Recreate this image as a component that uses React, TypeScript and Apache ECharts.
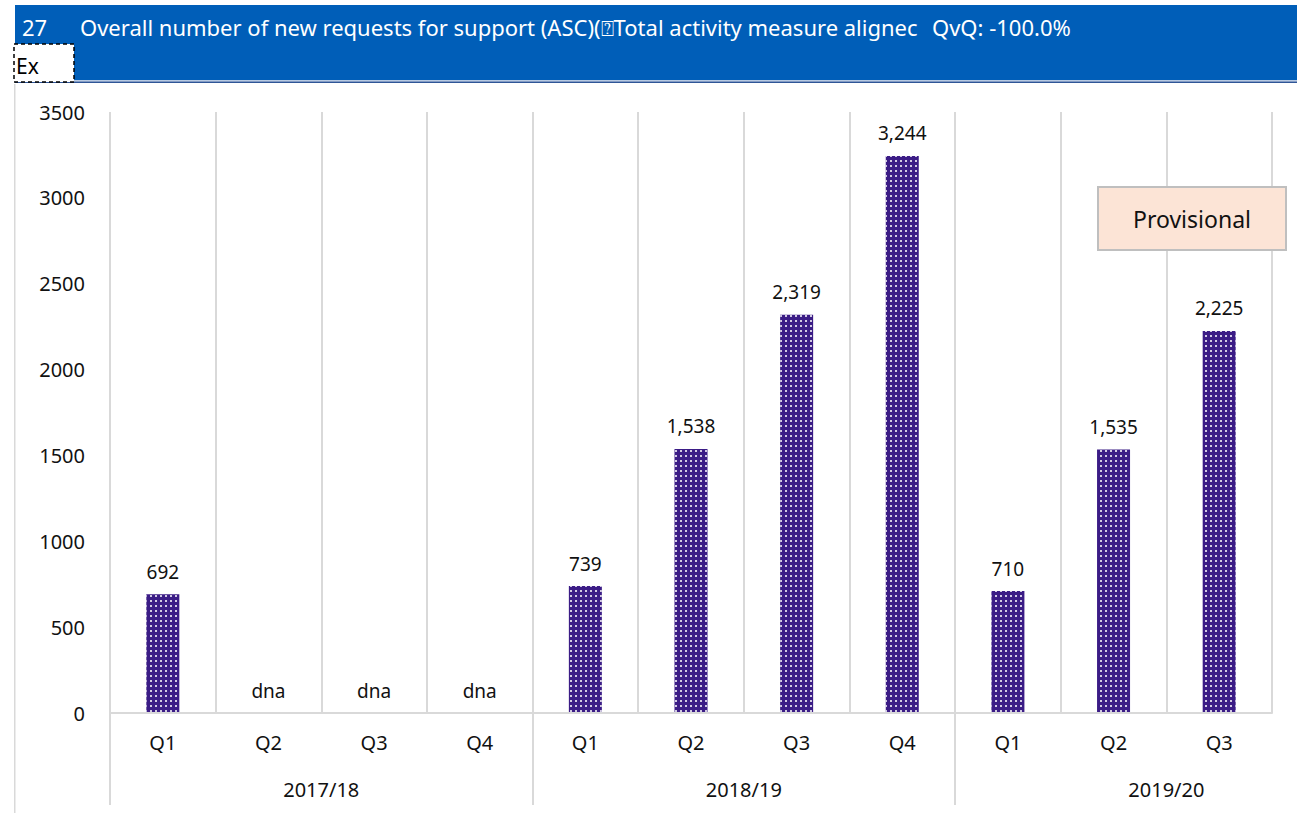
import React, { useEffect, useRef } from "react";
import * as echarts from "echarts";

const quarters = ["Q1", "Q2", "Q3", "Q4", "Q1", "Q2", "Q3", "Q4", "Q1", "Q2", "Q3"];
const values: (number | null)[] = [692, null, null, null, 739, 1538, 2319, 3244, 710, 1535, 2225];
const yearLabels: { pos: number; label: string }[] = [
  { pos: 2, label: "2017/18" },
  { pos: 6, label: "2018/19" },
  { pos: 10, label: "2019/20" },
];
const quartersPerYear = 4;
const yTicks = { min: 0, max: 3500, interval: 500 };

const FONT = "Noto Sans";
const GRID = "#D9D9D9";
const LEFT = 110;
const RIGHT_EDGE = 1272;

export default function App() {
  const ref = useRef<HTMLDivElement>(null);
  useEffect(() => {
    if (!ref.current) return;
    const chart = echarts.init(ref.current, undefined, { renderer: "svg" });
    const data = values.map((v) => (v === null ? 0 : v));
    const groupLineColors = Array.from({ length: quarters.length + 1 }, (_, i) =>
      i < quarters.length && i % quartersPerYear === 0 ? GRID : "rgba(0,0,0,0)"
    );
    chart.setOption({
      animation: false,
      textStyle: { fontFamily: FONT },
      grid: [
        { left: LEFT, right: 1297 - RIGHT_EDGE, top: 112, bottom: 100, containLabel: false },
        { left: LEFT, right: 1297 - RIGHT_EDGE, top: 713, height: 92, containLabel: false },
      ],
      xAxis: [
        {
          type: "category",
          gridIndex: 0,
          data: quarters,
          boundaryGap: true,
          axisLine: { show: true, lineStyle: { color: GRID, width: 2 } },
          axisTick: { show: false },
          axisLabel: { color: "#111", fontSize: 20, margin: 19, fontFamily: FONT },
          splitLine: { show: true, lineStyle: { color: GRID, width: 2 } },
          z: 3,
        },
        {
          type: "value",
          gridIndex: 0,
          min: 0,
          max: quarters.length,
          interval: 1,
          position: "bottom",
          axisLine: { show: false },
          axisTick: { show: false },
          splitLine: { show: false },
          axisLabel: {
            color: "#111",
            fontSize: 20,
            margin: 66,
            fontFamily: FONT,
            showMinLabel: false,
            showMaxLabel: false,
            formatter: (v: number) => {
              const f = yearLabels.find((y) => y.pos === v);
              return f ? f.label : "";
            },
          },
        },
        {
          type: "category",
          gridIndex: 1,
          data: quarters,
          boundaryGap: true,
          axisLine: { show: false },
          axisTick: { show: false },
          axisLabel: { show: false },
          splitLine: { show: true, interval: 0, lineStyle: { color: groupLineColors, width: 2 } },
        },
      ],
      yAxis: [
        {
          type: "value",
          gridIndex: 0,
          min: yTicks.min,
          max: yTicks.max,
          interval: yTicks.interval,
          axisLine: { show: false },
          axisTick: { show: false },
          splitLine: { show: false },
          axisLabel: { color: "#111", fontSize: 20, margin: 25, fontFamily: FONT, formatter: (v: number) => String(v) },
        },
        { type: "value", gridIndex: 1, show: false, splitLine: { show: false } },
      ],
      series: [
        {
          type: "bar",
          xAxisIndex: 0,
          yAxisIndex: 0,
          data,
          barWidth: 33,
          itemStyle: {
            color: "#3B1C86",
            decal: {
              symbol: "rect",
              symbolSize: 0.9,
              color: "rgba(255,255,255,0.85)",
              dashArrayX: [2, 3],
              dashArrayY: [2, 3],
              rotation: 0,
            },
          },
          label: {
            show: true,
            position: "top",
            distance: 13,
            color: "#111",
            fontSize: 19,
            fontFamily: FONT,
            formatter: (p: any) =>
              values[p.dataIndex] === null ? "dna" : Number(p.value).toLocaleString("en-US"),
          },
        },
      ],
      graphic: [
        { type: "rect", x: 15, y: 5, shape: { width: 1282, height: 75 }, style: { fill: "#005EB8" }, z: 10 },
        { type: "rect", x: 15, y: 80, shape: { width: 1282, height: 1.5 }, style: { fill: "#B7C9E2" }, z: 10 },
        { type: "rect", x: 15, y: 81.5, shape: { width: 1282, height: 1.5 }, style: { fill: "#2F5597" }, z: 10 },
        {
          type: "rect",
          x: 14,
          y: 44,
          shape: { width: 60, height: 38 },
          style: { fill: "#fff", stroke: "#000", lineWidth: 1.5, lineDash: [4, 3] },
          z: 11,
        },
        { type: "text", x: 16, y: 66, style: { text: "Ex", fill: "#000", font: `21px '${FONT}'`, textVerticalAlign: "middle" }, z: 12 },
        { type: "text", x: 22, y: 27, style: { text: "27", fill: "#fff", font: `22px '${FONT}'`, textVerticalAlign: "middle" }, z: 12 },
        {
          type: "text",
          x: 80,
          y: 27,
          style: {
            text: "Overall number of new requests for support (ASC)(⍰Total activity measure alignec",
            fill: "#fff",
            font: `22px '${FONT}'`,
            textVerticalAlign: "middle",
          },
          z: 12,
        },
        { type: "text", x: 932, y: 27, style: { text: "QvQ: -100.0%", fill: "#fff", font: `22px '${FONT}'`, textVerticalAlign: "middle" }, z: 12 },
        { type: "rect", x: 14, y: 84, shape: { width: 1.5, height: 729 }, style: { fill: GRID }, z: 1 },
        {
          type: "rect",
          x: 1098,
          y: 187,
          shape: { width: 188, height: 63 },
          style: { fill: "#FCE4D6", stroke: "#BFBFBF", lineWidth: 2 },
          z: 10,
        },
        {
          type: "text",
          x: 1192,
          y: 219,
          style: { text: "Provisional", fill: "#111", font: `23px '${FONT}'`, textAlign: "center", textVerticalAlign: "middle" },
          z: 11,
        },
      ],
    });
    return () => chart.dispose();
  }, []);
  return <div ref={ref} style={{ width: 1297, height: 813, position: "absolute", left: 0, top: 0 }} />;
}
